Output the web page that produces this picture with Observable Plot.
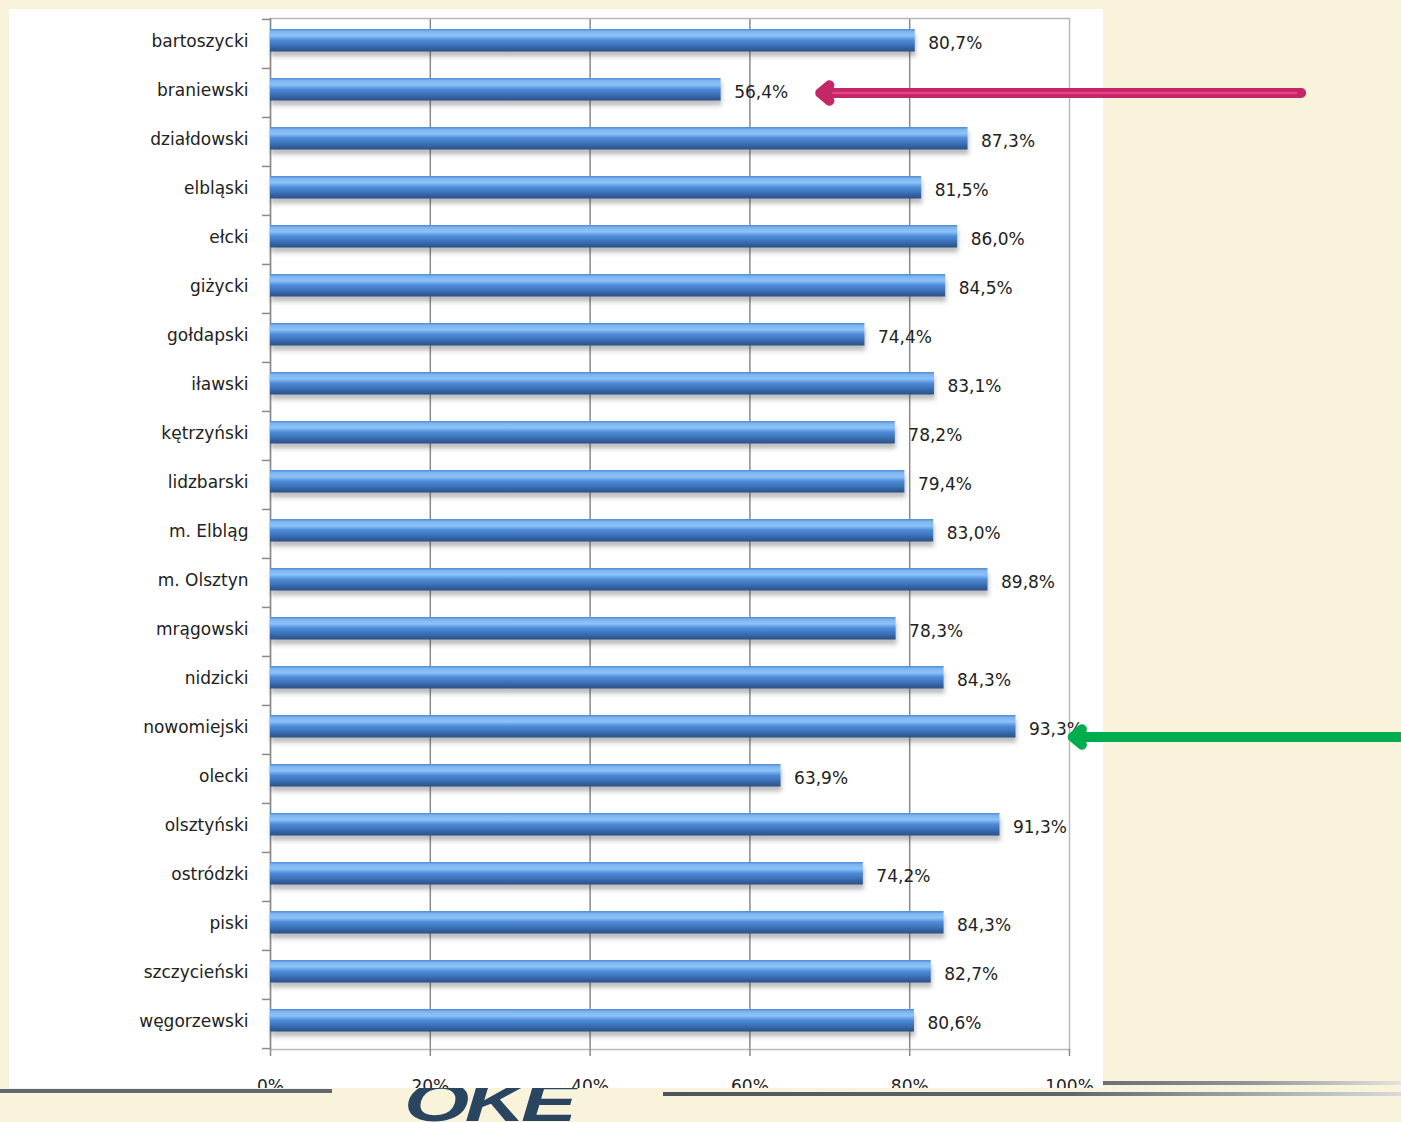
<!DOCTYPE html>
<html>
<head>
<meta charset="utf-8">
<script src="https://cdn.jsdelivr.net/npm/d3@7"></script>
<script src="https://cdn.jsdelivr.net/npm/@observablehq/plot@0.6"></script>
<style>
  html, body { margin: 0; padding: 0; background: #f9f3dc; width: 1401px; height: 1122px; overflow: hidden; }
  #panel { position: absolute; left: 9px; top: 9px; width: 1094px; height: 1079px; background: #ffffff; }
  #chart { position: absolute; left: 0; top: 0; }
  #band { position: absolute; left: 0; top: 1088px; width: 1401px; height: 34px; background: #f9f3dc; overflow: hidden; }
  #rline { position: absolute; left: 1103px; top: 1081px; width: 298px; height: 4px; background: linear-gradient(90deg,#6a7076 0%,#8f959a 50%,#e4e4dc 100%); }
  .ln { position: absolute; height: 4px; }
  #logo { position: absolute; left: 404px; top: -6px; height: 40px; line-height: 40px; font-family: "Liberation Sans", Arial, sans-serif; font-weight: 900; font-style: italic; font-size: 56px; color: #2a4560; letter-spacing: -3px; transform: scaleX(1.5); transform-origin: left top; white-space: nowrap; }
</style>
</head>
<body>
<div id="panel"></div>
<div id="rline"></div>
<div id="chart"></div>
<div id="band">
  <div class="ln" style="left:0;top:1px;width:332px;background:#5f6870;"></div>
  <div class="ln" style="left:663px;top:4px;width:738px;background:linear-gradient(90deg,#4d5660 0%,#5f676e 55%,#d8dbd8 100%);"></div>
  <div id="logo">OKE</div>
</div>
<script>
const categories = ["bartoszycki","braniewski","działdowski","elbląski","ełcki","giżycki","gołdapski","iławski","kętrzyński","lidzbarski","m. Elbląg","m. Olsztyn","mrągowski","nidzicki","nowomiejski","olecki","olsztyński","ostródzki","piski","szczycieński","węgorzewski"];
const values = [80.7,56.4,87.3,81.5,86.0,84.5,74.4,83.1,78.2,79.4,83.0,89.8,78.3,84.3,93.3,63.9,91.3,74.2,84.3,82.7,80.6];
const xTicks = [0,20,40,60,80,100];
const gridTicks = [20,40,60,80];
// annotation arrows (in % units of the x scale)
const arrowRows = ["braniewski","nowomiejski"];
const arrowFrom = [129, 142];
const arrowTo = [68.8, 100.4];
const arrowColors = ["#c42767","#00ad4e"];

const data = categories.map((name, i) => ({name, value: values[i]}));
const arrows = arrowRows.map((name, i) => ({name, x1: arrowFrom[i], x2: arrowTo[i], color: arrowColors[i]}));

const width = 1401, height = 1122;
const marginTop = 18, marginBottom = 73, marginLeft = 270, marginRight = 332;
const step = (height - marginTop - marginBottom) / categories.length;
const fmt = v => v.toFixed(1).replace(".", ",") + "%";

const chart = Plot.plot({
  width, height, marginTop, marginBottom, marginLeft, marginRight,
  style: {background: "transparent", fontFamily: "'DejaVu Sans', Verdana, sans-serif", fontSize: "17px", color: "#222"},
  x: {domain: [0, 100], axis: null},
  y: {domain: categories, padding: 0, axis: null},
  marks: [
    Plot.ruleX(gridTicks, {stroke: "#8a8a8a", strokeWidth: 1.5}),
    Plot.frame({stroke: "#b8b8b8", strokeWidth: 1.5}),
    Plot.ruleX([0], {stroke: "#8a8a8a", strokeWidth: 1.5}),
    Plot.axisY(categories, {tickSize: 8, tickFormat: () => "", label: null, dy: -step / 2, stroke: "#8a8a8a", strokeWidth: 1.5}),
    Plot.axisY([categories[categories.length - 1]], {tickSize: 8, tickFormat: () => "", label: null, dy: step / 2, stroke: "#8a8a8a", strokeWidth: 1.5}),
    Plot.axisY({tickSize: 0, tickPadding: 22, fontSize: 17, dy: -2, fill: "#222", label: null}),
    Plot.axisX(xTicks, {tickSize: 7, tickPadding: 23, fontSize: 17, tickFormat: d => d + "%", label: null, stroke: "#8a8a8a", strokeWidth: 1.5, fill: "#222"}),
    Plot.barX(data, {x: "value", y: "name", fill: "url(#barGrad)", insetTop: 10, insetBottom: 16.5}),
    Plot.text(data, {x: "value", y: "name", text: d => fmt(d.value), textAnchor: "start", dx: 13, dy: 0, fontSize: 17, fill: "#222"}),
    Plot.arrow(arrows.slice(0, 1), {x1: "x1", x2: "x2", y: "name", stroke: "color", strokeWidth: 10, headLength: 1.8, headAngle: 80, strokeLinecap: "round", strokeLinejoin: "round"}),
    Plot.link(arrows.slice(0, 1), {x1: d => d.x1 - 0.5, x2: d => d.x2 + 1.5, y: "name", stroke: "#ee3f86", strokeWidth: 2.5}),
    Plot.arrow(arrows.slice(1), {x1: "x1", x2: "x2", y: "name", dy: 7, stroke: "color", strokeWidth: 10, headLength: 1.8, headAngle: 80, strokeLinecap: "round", strokeLinejoin: "round"})
  ]
});

const defs = d3.select(chart).insert("defs", ":first-child");
const g = defs.append("linearGradient").attr("id", "barGrad").attr("x1", 0).attr("y1", 0).attr("x2", 0).attr("y2", 1);
[[0, "#4f8ad0"], [0.12, "#7fb6f1"], [0.3, "#8cc2f7"], [0.5, "#4d8bd8"], [0.75, "#3b6fb6"], [1, "#2a4f85"]]
  .forEach(([o, c]) => g.append("stop").attr("offset", o).attr("stop-color", c));
const f = defs.append("filter").attr("id", "shadow").attr("x", "-5%").attr("y", "-50%").attr("width", "110%").attr("height", "250%");
f.append("feDropShadow").attr("dx", 1).attr("dy", 5).attr("stdDeviation", 2.2).attr("flood-color", "#444").attr("flood-opacity", 0.35);
d3.select(chart).selectAll("g[aria-label='bar']").attr("filter", "url(#shadow)");

document.getElementById("chart").appendChild(chart);
</script>
</body>
</html>
